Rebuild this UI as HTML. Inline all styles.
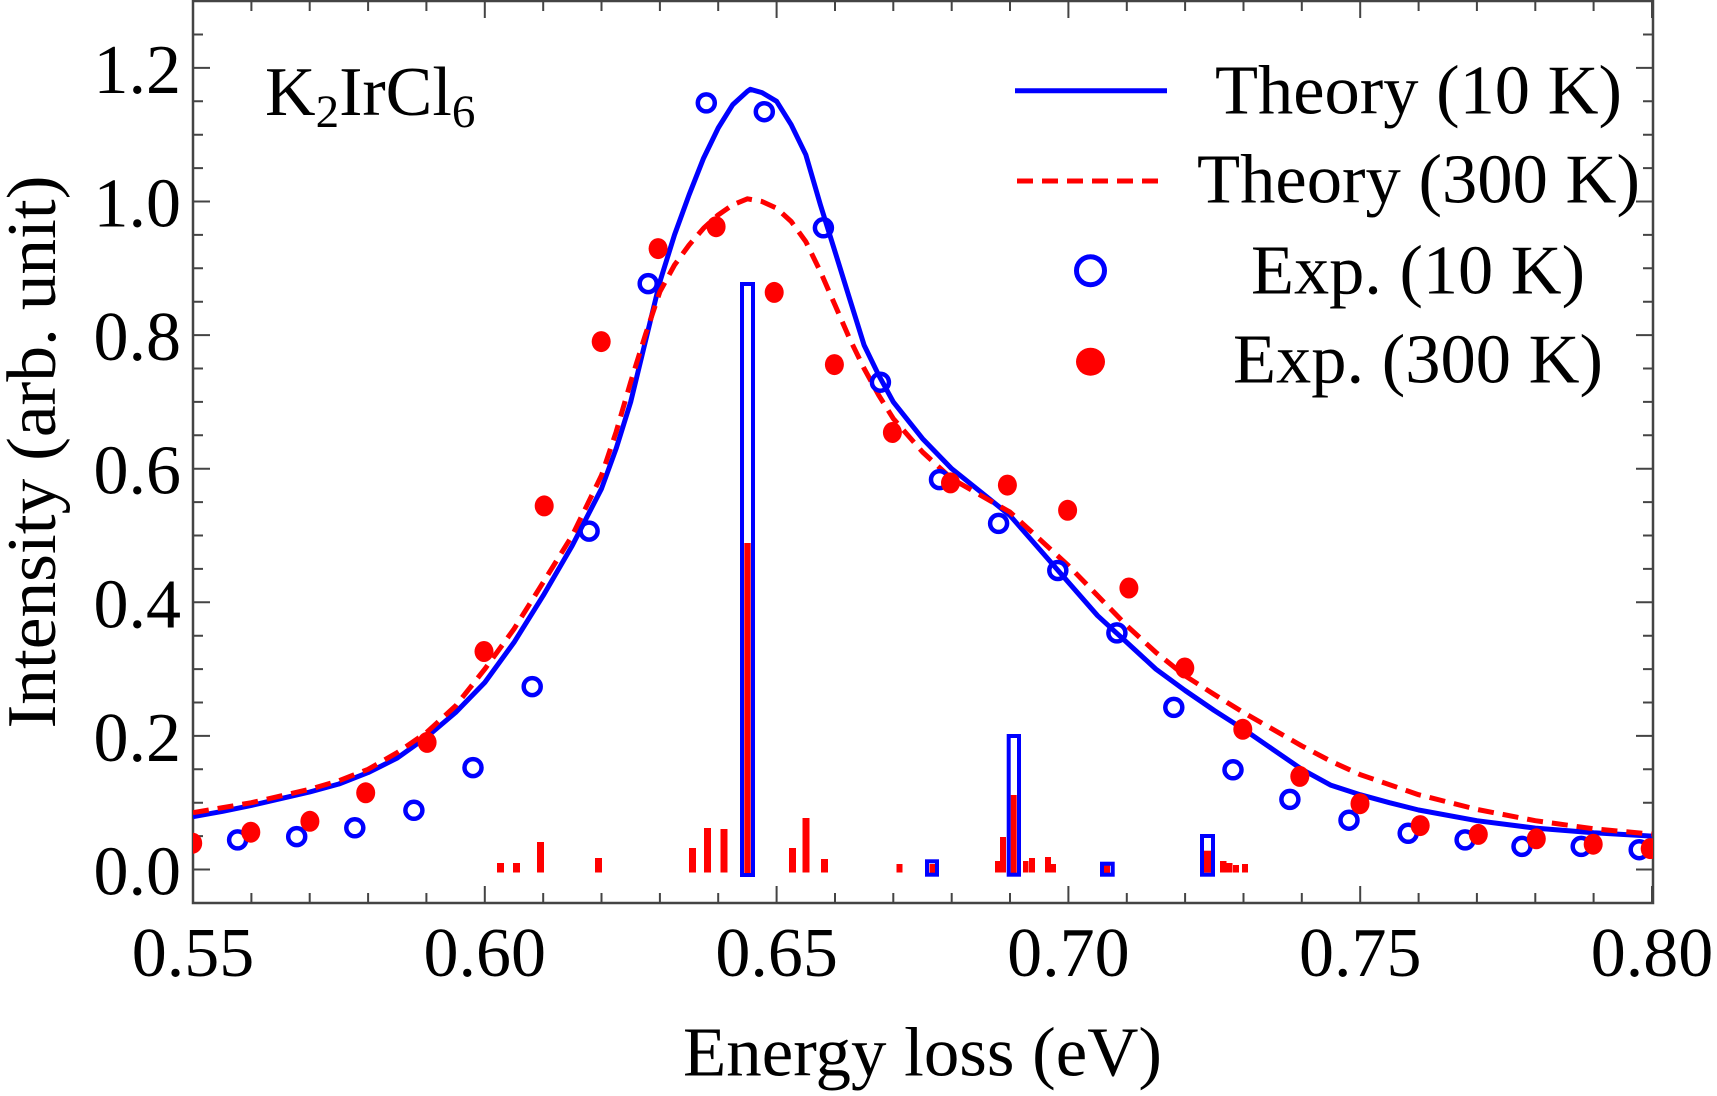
<!DOCTYPE html>
<html><head><meta charset="utf-8"><style>html,body{margin:0;padding:0;background:#fff}svg{display:block}</style></head>
<body>
<svg width="1717" height="1096" viewBox="0 0 1717 1096" xmlns="http://www.w3.org/2000/svg" font-family="'Liberation Serif',serif">
<defs><clipPath id="c"><rect x="193" y="1" width="1460" height="902"/></clipPath></defs>
<rect width="1717" height="1096" fill="#fff"/>
<g stroke="#444" stroke-width="2" fill="none">
<path d="M193 903v-17M251.4 903v-10M309.7 903v-10M368.1 903v-10M426.4 903v-10M484.8 903v-17M543.2 903v-10M601.5 903v-10M659.9 903v-10M718.2 903v-10M776.6 903v-17M835 903v-10M893.3 903v-10M951.7 903v-10M1010 903v-10M1068.4 903v-17M1126.8 903v-10M1185.1 903v-10M1243.5 903v-10M1301.8 903v-10M1360.2 903v-17M1418.6 903v-10M1476.9 903v-10M1535.3 903v-10M1593.6 903v-10M1652 903v-17"/>
<path d="M193 1v17M251.4 1v10M309.7 1v10M368.1 1v10M426.4 1v10M484.8 1v17M543.2 1v10M601.5 1v10M659.9 1v10M718.2 1v10M776.6 1v17M835 1v10M893.3 1v10M951.7 1v10M1010 1v10M1068.4 1v17M1126.8 1v10M1185.1 1v10M1243.5 1v10M1301.8 1v10M1360.2 1v17M1418.6 1v10M1476.9 1v10M1535.3 1v10M1593.6 1v10M1652 1v17"/>
<path d="M193 869.5h17M193 836.1h10M193 802.7h10M193 769.3h10M193 735.9h17M193 702.5h10M193 669.1h10M193 635.7h10M193 602.3h17M193 568.9h10M193 535.5h10M193 502.1h10M193 468.7h17M193 435.3h10M193 401.9h10M193 368.5h10M193 335.1h17M193 301.7h10M193 268.3h10M193 234.9h10M193 201.5h17M193 168.1h10M193 134.7h10M193 101.3h10M193 67.9h17M193 34.5h10"/>
<path d="M1653 869.5h-17M1653 836.1h-10M1653 802.7h-10M1653 769.3h-10M1653 735.9h-17M1653 702.5h-10M1653 669.1h-10M1653 635.7h-10M1653 602.3h-17M1653 568.9h-10M1653 535.5h-10M1653 502.1h-10M1653 468.7h-17M1653 435.3h-10M1653 401.9h-10M1653 368.5h-10M1653 335.1h-17M1653 301.7h-10M1653 268.3h-10M1653 234.9h-10M1653 201.5h-17M1653 168.1h-10M1653 134.7h-10M1653 101.3h-10M1653 67.9h-17M1653 34.5h-10"/>
</g>
<rect x="193" y="1" width="1460" height="902" fill="none" stroke="#444" stroke-width="2.5"/>
<g font-size="70" fill="#000" text-anchor="end">
<text x="181" y="894.5">0.0</text><text x="181" y="760.9">0.2</text><text x="181" y="627.3">0.4</text>
<text x="181" y="493.7">0.6</text><text x="181" y="360.1">0.8</text><text x="181" y="226.5">1.0</text><text x="181" y="92.9">1.2</text>
</g>
<g font-size="70" fill="#000" text-anchor="middle">
<text x="193" y="976">0.55</text><text x="484.8" y="976">0.60</text><text x="776.6" y="976">0.65</text>
<text x="1068.4" y="976">0.70</text><text x="1360.2" y="976">0.75</text><text x="1652" y="976">0.80</text>
<text x="922.5" y="1075.5" textLength="479" lengthAdjust="spacingAndGlyphs">Energy loss (eV)</text>
<text transform="translate(55,452) rotate(-90)" x="0" y="0" textLength="553" lengthAdjust="spacingAndGlyphs">Intensity (arb. unit)</text>
</g>
<text x="265" y="115" font-size="70" fill="#000">K<tspan font-size="47" dy="12">2</tspan><tspan dy="-12">IrCl</tspan><tspan font-size="47" dy="12">6</tspan></text>
<g clip-path="url(#c)">
<g fill="#f00">
<rect x="497" y="863" width="7" height="9.5"/><rect x="513" y="863" width="7" height="9.5"/><rect x="537" y="842" width="7" height="30.5"/>
<rect x="595" y="858" width="7" height="14.5"/><rect x="689" y="848" width="7" height="24.5"/><rect x="704" y="828" width="7" height="44.5"/>
<rect x="720.5" y="829" width="7" height="43.5"/><rect x="789" y="848" width="7" height="24.5"/><rect x="802.5" y="818" width="7" height="54.5"/>
<rect x="821" y="859" width="7" height="13.5"/><rect x="896.5" y="864" width="6" height="8.5"/>
<rect x="995" y="861" width="5" height="11.5"/><rect x="1000" y="837" width="6" height="35.5"/>
<rect x="1023" y="861" width="5.5" height="11.5"/><rect x="1029" y="858" width="6" height="14.5"/>
<rect x="1045" y="857" width="6" height="15.5"/><rect x="1049" y="864" width="7" height="8.5"/>
<rect x="1220" y="861" width="6.5" height="11.5"/><rect x="1226" y="863" width="6.5" height="9.5"/><rect x="1233" y="865" width="6" height="7.5"/><rect x="1242" y="864" width="6" height="8.5"/>
<rect x="744.3" y="543" width="6.4" height="330"/>
<rect x="1010.7" y="795" width="6" height="78"/>
<rect x="929.5" y="864" width="5.5" height="9"/>
<rect x="1104" y="865.5" width="6" height="7.5"/>
<rect x="1204" y="850.7" width="7" height="22"/>
</g>
<g fill="none" stroke="#00f" stroke-width="4">
<rect x="742" y="284" width="11" height="591"/>
<rect x="1008.7" y="736" width="10.3" height="138.7"/>
<rect x="927" y="861.3" width="10" height="13.4"/>
<rect x="1102" y="863.7" width="10.7" height="11"/>
<rect x="1202" y="836" width="11" height="38.7"/>
</g>
<polyline fill="none" stroke="#00f" stroke-width="5" stroke-linejoin="round" points="193,816.7 222.2,811.4 251.4,805.4 280.5,798.7 309.7,792 338.9,784 368.1,772.6 397.3,758 426.4,737.2 455.6,712.5 484.8,682.5 514,642.4 543.2,595.6 572.3,545.5 601.5,488.7 616.1,448.7 630.7,401.9 645.3,341.8 659.9,281.7 674.5,234.9 689.1,194.8 703.6,158.1 718.2,128 732.8,104.6 747.4,91.3 750.3,89.3 762,92.6 776.6,101.3 791.2,124.7 805.8,154.7 820.4,204.8 835,251.6 849.5,298.4 864.1,345.1 878.7,375.2 893.3,401.9 922.5,438.6 951.7,468.7 980.9,492.1 1010,515.5 1039.2,548.9 1068.4,582.3 1097.6,615.7 1126.8,642.4 1155.9,669.1 1185.1,690.5 1214.3,710.5 1243.5,729.2 1272.7,749.3 1301.8,769.3 1331,785.3 1360.2,794.7 1389.4,802.7 1418.6,810 1476.9,820.7 1535.3,828.1 1593.6,832.8 1652,836.1"/>
<polyline fill="none" stroke="#f00" stroke-width="5" stroke-dasharray="16 9" stroke-linejoin="round" points="193,812.7 251.4,802.7 309.7,789.3 338.9,780.7 368.1,769.3 397.3,752.6 426.4,732.6 455.6,705.9 484.8,669.1 514,629 543.2,582.3 572.3,535.5 601.5,475.4 616.1,432 630.7,381.9 645.3,335.1 659.9,291.7 674.5,265 689.1,245 703.6,228.2 718.2,214.9 732.8,204.8 747.4,198.8 762,201.5 776.6,208.2 791.2,221.5 805.8,241.6 820.4,271.6 835,305 849.5,338.4 864.1,368.5 878.7,395.2 893.3,418.6 922.5,452 951.7,478.7 980.9,495.4 1010,512.1 1039.2,538.8 1068.4,565.6 1097.6,595.6 1126.8,625.7 1155.9,652.4 1185.1,675.8 1214.3,694.5 1243.5,712.5 1272.7,729.2 1301.8,745.9 1331,761.3 1360.2,774.6 1418.6,794.7 1476.9,809.4 1535.3,820.7 1593.6,828.8 1652,834.1"/>
<g fill="none" stroke="#00f" stroke-width="4.5">
<circle cx="237.6" cy="839.9" r="8.5"/><circle cx="296.7" cy="836.6" r="8.5"/><circle cx="354.8" cy="827.8" r="8.5"/><circle cx="413.9" cy="810.3" r="8.5"/>
<circle cx="473" cy="767.6" r="8.5"/><circle cx="532.2" cy="686.6" r="8.5"/><circle cx="589.1" cy="531.1" r="8.5"/><circle cx="648.2" cy="283.6" r="8.5"/>
<circle cx="706.3" cy="102.9" r="8.5"/><circle cx="764.3" cy="111.7" r="8.5"/><circle cx="823.4" cy="227.8" r="8.5"/><circle cx="880.4" cy="382.2" r="8.5"/>
<circle cx="939.5" cy="479.6" r="8.5"/><circle cx="998.6" cy="523.4" r="8.5"/><circle cx="1057.8" cy="570.5" r="8.5"/><circle cx="1116.9" cy="632.9" r="8.5"/>
<circle cx="1173.8" cy="707.4" r="8.5"/><circle cx="1233" cy="769.8" r="8.5"/><circle cx="1289.9" cy="799.4" r="8.5"/><circle cx="1349" cy="820.2" r="8.5"/>
<circle cx="1408.2" cy="833.3" r="8.5"/><circle cx="1465.1" cy="839.9" r="8.5"/><circle cx="1522" cy="846.4" r="8.5"/><circle cx="1581.2" cy="846.4" r="8.5"/><circle cx="1639.2" cy="849.7" r="8.5"/>
</g>
<g fill="#f00">
<ellipse cx="192.7" cy="843.2" rx="9.5" ry="10.5"/><ellipse cx="250.8" cy="832.2" rx="9.5" ry="10.5"/><ellipse cx="309.9" cy="821.3" rx="9.5" ry="10.5"/><ellipse cx="365.7" cy="792.8" rx="9.5" ry="10.5"/>
<ellipse cx="427.1" cy="742.4" rx="9.5" ry="10.5"/><ellipse cx="484" cy="651.5" rx="9.5" ry="10.5"/><ellipse cx="544.2" cy="505.9" rx="9.5" ry="10.5"/><ellipse cx="601.2" cy="341.6" rx="9.5" ry="10.5"/>
<ellipse cx="658.1" cy="248.6" rx="9.5" ry="10.5"/><ellipse cx="716.1" cy="226.7" rx="9.5" ry="10.5"/><ellipse cx="774.2" cy="292.4" rx="9.5" ry="10.5"/><ellipse cx="834.4" cy="364.6" rx="9.5" ry="10.5"/>
<ellipse cx="892.4" cy="432.5" rx="9.5" ry="10.5"/><ellipse cx="950.5" cy="482.9" rx="9.5" ry="10.5"/><ellipse cx="1007.4" cy="485.1" rx="9.5" ry="10.5"/><ellipse cx="1067.6" cy="510.3" rx="9.5" ry="10.5"/>
<ellipse cx="1128.9" cy="588" rx="9.5" ry="10.5"/><ellipse cx="1184.8" cy="668" rx="9.5" ry="10.5"/><ellipse cx="1242.8" cy="729.3" rx="9.5" ry="10.5"/><ellipse cx="1299.8" cy="776.4" rx="9.5" ry="10.5"/>
<ellipse cx="1360" cy="803.7" rx="9.5" ry="10.5"/><ellipse cx="1420.2" cy="825.6" rx="9.5" ry="10.5"/><ellipse cx="1478.3" cy="834.4" rx="9.5" ry="10.5"/><ellipse cx="1536.3" cy="838.8" rx="9.5" ry="10.5"/>
<ellipse cx="1593.2" cy="844.2" rx="9.5" ry="10.5"/><ellipse cx="1650.2" cy="848.6" rx="9.5" ry="10.5"/>
</g>
</g>
<line x1="1015" y1="90.7" x2="1167" y2="90.7" stroke="#00f" stroke-width="5"/>
<line x1="1017" y1="181" x2="1164" y2="181" stroke="#f00" stroke-width="5" stroke-dasharray="16 9"/>
<circle cx="1090.5" cy="270.7" r="14" fill="none" stroke="#00f" stroke-width="5"/>
<ellipse cx="1090.5" cy="361.7" rx="14.5" ry="14" fill="#f00"/>
<g font-size="70" fill="#000">
<text x="1215" y="113.3" textLength="407" lengthAdjust="spacingAndGlyphs">Theory (10 K)</text>
<text x="1197" y="202.7" textLength="443" lengthAdjust="spacingAndGlyphs">Theory (300 K)</text>
<text x="1251" y="293.3" textLength="334" lengthAdjust="spacingAndGlyphs">Exp. (10 K)</text>
<text x="1233" y="382.7" textLength="370" lengthAdjust="spacingAndGlyphs">Exp. (300 K)</text>
</g>
</svg>
</body></html>
